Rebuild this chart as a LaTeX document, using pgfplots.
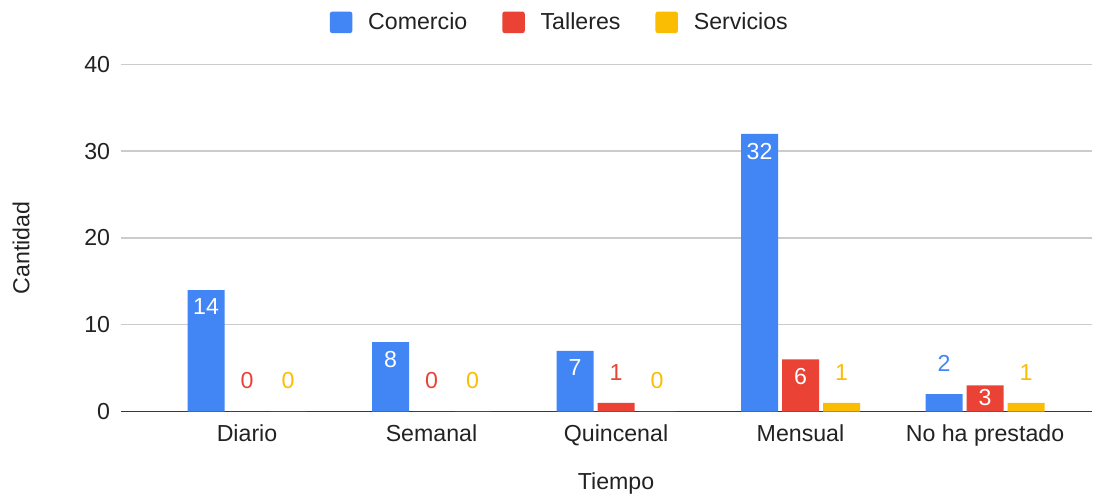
\documentclass[border=0pt]{standalone}
\usepackage{pgfplots}
\usepackage{pgfplotstable}
\pgfplotsset{compat=1.18}
\usepackage{fontspec}
\setmainfont{Liberation Sans}

\definecolor{cblue}{HTML}{4285F4}
\definecolor{cred}{HTML}{EA4335}
\definecolor{cyel}{HTML}{FBBC04}
\definecolor{ctext}{HTML}{222222}
\definecolor{cgrid}{HTML}{CCCCCC}

% x = category index, y = value, ys = label shift in pt (negative = inside the bar, white)
\pgfplotstableread{
x y ys
0 14 -10.2
1 8 -10.2
2 7 -10.2
3 32 -10.8
4 2 18.5
}\comercio
\pgfplotstableread{
x y ys
0 0 18.6
1 0 18.6
2 1 18.0
3 6 -10.5
4 3 -7.5
}\talleres
\pgfplotstableread{
x y ys
0 0 18.6
1 0 18.6
2 0 18.6
3 1 18.0
4 1 18.0
}\servicios

\begin{document}
\begin{tikzpicture}
\useasboundingbox (-72.6pt,-51.3pt) rectangle (589.2pt,246.9pt);
\begin{axis}[
    scale only axis,
    width=582.6pt, height=208.3pt,
    ybar=2.4pt, bar width=22.2pt,
    xmin=-0.683, xmax=4.58,
    ymin=0, ymax=40,
    xtick={0,1,2,3,4},
    xticklabels={Diario, Semanal, Quincenal, Mensual, No ha prestado},
    ytick={0,10,20,30,40},
    ymajorgrids,
    grid style={cgrid, line width=0.8pt},
    extra y ticks={0},
    extra y tick labels={},
    extra y tick style={grid style={ctext!90, line width=0.9pt}},
    axis line style={draw=none},
    tick style={draw=none},
    tick label style={font=\fontsize{13.9}{15}\selectfont, text=ctext},
    /pgf/number format/assume math mode=true,
    xticklabel style={yshift=0pt},
    yticklabel style={xshift=-3pt},
    xlabel={Tiempo}, ylabel={Cantidad},
    label style={font=\fontsize{13.9}{15}\selectfont, text=ctext},
    xlabel style={at={(axis description cs:0.5098,-0.2074)}, anchor=center},
    ylabel style={at={(axis description cs:-0.103,0.471)}, anchor=center, rotate=0},
    legend style={draw=none, legend columns=-1, at={(axis description cs:0.4526,1.121)}, anchor=center,
        font=\fontsize{13.9}{15}\selectfont, text=ctext,
        /tikz/every odd column/.append style={column sep=7.5pt},
        /tikz/every even column/.append style={column sep=19pt}},
    legend image code/.code={\fill[rounded corners=1.5pt] (0pt,-6.5pt) rectangle (13.5pt,6.5pt);},
    clip=false,
    visualization depends on={\thisrow{ys} \as \ys},
    nodes near coords={\ifdim\ys pt<0pt\color{white}\fi\pgfmathprintnumber{\pgfplotspointmeta}},
    every node near coord/.append style={anchor=center, yshift=\ys*1pt, font=\fontsize{13.9}{15}\selectfont},
]
\addplot[fill=cblue, draw=none, every node near coord/.append style={text=cblue}] table[x=x, y=y] {\comercio};
\addplot[fill=cred, draw=none, every node near coord/.append style={text=cred}] table[x=x, y=y] {\talleres};
\addplot[fill=cyel, draw=none, every node near coord/.append style={text=cyel}] table[x=x, y=y] {\servicios};
\legend{Comercio, Talleres, Servicios}
\end{axis}
\end{tikzpicture}
\end{document}
